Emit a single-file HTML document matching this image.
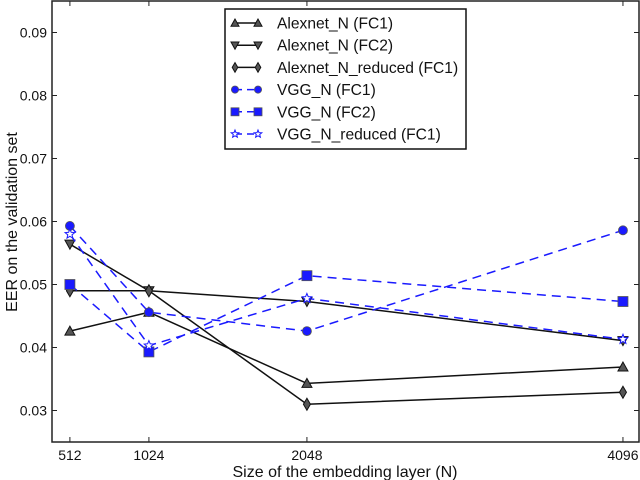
<!DOCTYPE html>
<html><head><meta charset="utf-8"><style>
body{margin:0;background:#fff}
svg{display:block;font-family:"Liberation Sans",sans-serif}
</style></head><body>
<svg id="chart" width="640" height="480"></svg>
<script>
const categories=[512,1024,2048,4096];
const yTicks=[0.03,0.04,0.05,0.06,0.07,0.08,0.09];
const seriesNames=["Alexnet_N (FC1)","Alexnet_N (FC2)","Alexnet_N_reduced (FC1)","VGG_N (FC1)","VGG_N (FC2)","VGG_N_reduced (FC1)"];
const alexFC1=[0.0426,0.0456,0.0343,0.0369];
const alexFC2=[0.0564,0.0490,0.0473,0.0411];
const alexRed=[0.0490,0.0490,0.0310,0.0329];
const vggFC1=[0.0593,0.0456,0.0426,0.0586];
const vggFC2=[0.0500,0.0393,0.0514,0.0473];
const vggRed=[0.0580,0.0403,0.0478,0.0413];
const allSeries=[alexFC1,alexFC2,alexRed,vggFC1,vggFC2,vggRed];
const markers=["tri","tridown","diamond","circle","square","star"];

const L=52,R=639,T=1,B=442;
const xmin=396,xmax=4200,ymin=0.025,ymax=0.095;
const X=v=>L+(v-xmin)/(xmax-xmin)*(R-L);
const Y=v=>B-(v-ymin)/(ymax-ymin)*(B-T);
const svg=document.getElementById('chart');
const NS="http://www.w3.org/2000/svg";
function mk(tag,attrs,parent){const e=document.createElementNS(NS,tag);for(const k in attrs)e.setAttribute(k,attrs[k]);(parent||svg).appendChild(e);return e;}

function marker(type,x,y,color,g,s){
  s=s||1;
  const st=type==='circle'||type==='square'||type==='star'?{fill:color,stroke:'#555','stroke-width':0.8}:{fill:'#555',stroke:'#111','stroke-width':1};
  let e;
  if(type==='tri')e=mk('polygon',Object.assign({points:`${x},${y-5*s} ${x-5*s},${y+4*s} ${x+5*s},${y+4*s}`},st),g);
  else if(type==='tridown')e=mk('polygon',Object.assign({points:`${x},${y+5*s} ${x-5*s},${y-4*s} ${x+5*s},${y-4*s}`},st),g);
  else if(type==='diamond')e=mk('polygon',Object.assign({points:`${x},${y-6*s} ${x-3.5*s},${y} ${x},${y+6*s} ${x+3.5*s},${y}`},st),g);
  else if(type==='circle')e=mk('circle',Object.assign({cx:x,cy:y,r:4.5*s},st),g);
  else if(type==='square')e=mk('rect',Object.assign({x:x-5*s,y:y-5*s,width:10*s,height:10*s},st),g);
  else{let p=[];for(let i=0;i<10;i++){const a=-Math.PI/2+i*Math.PI/5,r=(i%2?2.2:5)*s;p.push((x+r*Math.cos(a)).toFixed(1)+','+(y+r*Math.sin(a)).toFixed(1));}
    e=mk('polygon',Object.assign({points:p.join(' ')},{fill:'#fff',stroke:'#1a1aff','stroke-width':1}),g);}
  
  
}

const frame=mk('rect',{x:L,y:T,width:R-L,height:B-T,fill:'none',stroke:'#222','stroke-width':1.5});



yTicks.forEach(t=>{
  const y=Y(t);
  const tl=mk('line',{x1:L,x2:L+5,y1:y,y2:y,stroke:'#222'});
  
  
  const tr=mk('line',{x1:R-5,x2:R,y1:y,y2:y,stroke:'#222'});
  
  
  const tx=mk('text',{x:L-5,y:y+5,'text-anchor':'end','font-size':14,fill:'#111'});
  tx.textContent=t.toFixed(2);
  
  
});
categories.forEach(c=>{
  const x=X(c);
  const tb=mk('line',{x1:x,x2:x,y1:B,y2:B-5,stroke:'#222'});
  
  
  const tt=mk('line',{x1:x,x2:x,y1:T,y2:T+5,stroke:'#222'});
  
  
  const tx=mk('text',{x:x,y:B+18,'text-anchor':'middle','font-size':14,fill:'#111'});
  tx.textContent=c;
  
  
});
const xl=mk('text',{x:345,y:477,'text-anchor':'middle','font-size':16,fill:'#111'});
xl.textContent='Size of the embedding layer (N)';


const yl=mk('text',{x:0,y:0,'text-anchor':'middle','font-size':16,fill:'#111',transform:'translate(17,222) rotate(-90)'});
yl.textContent='EER on the validation set';



allSeries.forEach((s,i)=>{
  const g=mk('g',{});
  
  
  const blue=i>=3;
  const pl=mk('polyline',{points:s.map((v,j)=>X(categories[j])+','+Y(v)).join(' '),fill:'none',stroke:blue?'#1a1aff':'#111','stroke-width':1.5,'stroke-dasharray':blue?'9,6':'none'},g);
  
  
  s.forEach((v,j)=>marker(markers[i],X(categories[j]),Y(v),blue?'#1a1aff':'#555',g));
});

const lg=mk('g',{});


const lb=mk('rect',{x:225,y:9,width:241,height:140,fill:'#fff',stroke:'#111','stroke-width':1.5},lg);


seriesNames.forEach((n,i)=>{
  const y=23+i*22.2, blue=i>=3;
  const ln=mk('line',{x1:235,x2:258,y1:y,y2:y,stroke:blue?'#1a1aff':'#111','stroke-width':1.5,'stroke-dasharray':blue?'7,5':'none'},lg);
  
  
  marker(markers[i],235,y,blue?'#1a1aff':'#555',lg,0.8);
  marker(markers[i],258,y,blue?'#1a1aff':'#555',lg,0.8);
  const t=mk('text',{x:277,y:y+5.5,'font-size':15.6,fill:'#111'},lg);
  t.textContent=n;
  
  
});
</script>
</body></html>
